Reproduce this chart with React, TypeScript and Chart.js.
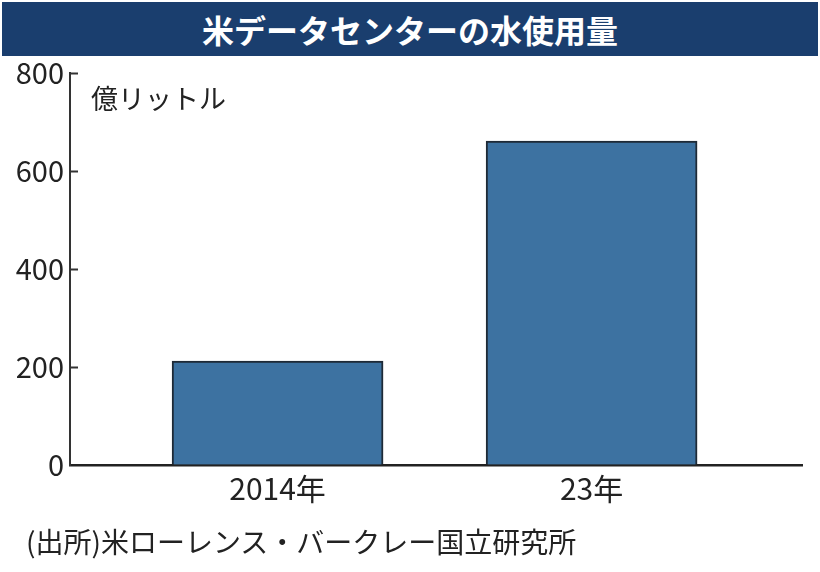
import React, { useEffect, useRef } from "react";
import { Chart, registerables } from "chart.js";

Chart.register(...registerables);

const titleText = "米データセンターの水使用量";
const unitText = "億リットル";
const sourceText = "(出所)米ローレンス・バークレー国立研究所";
const categories = ["2014年", "23年"];
const values = [212, 661];
const yTicks = [0, 200, 400, 600, 800];

const FONT = '"Noto Sans CJK JP", "Noto Sans", sans-serif';

const innerTicks = {
  id: "innerTicks",
  afterDatasetsDraw(chart: any) {
    const { ctx } = chart;
    const y = chart.scales.y;
    const x0 = chart.chartArea.left;
    ctx.save();
    ctx.strokeStyle = "#333";
    ctx.lineWidth = 2;
    yTicks.forEach((v) => {
      if (v === 0) return;
      const py = Math.round(y.getPixelForValue(v)) + 0.5;
      ctx.beginPath();
      ctx.moveTo(x0, py);
      ctx.lineTo(x0 + 8, py);
      ctx.stroke();
    });
    ctx.restore();
  },
};

export default function App() {
  const ref = useRef<HTMLCanvasElement>(null);
  useEffect(() => {
    document.body.style.margin = "0";
    const chart = new Chart(ref.current!, {
      type: "bar",
      data: {
        datasets: [
          {
            data: categories.map((c, i) => ({ x: i + 1, y: values[i] })),
            backgroundColor: "#3d72a1",
            borderColor: "#1e2a36",
            borderWidth: 2,
            barThickness: 211,
          },
        ],
      },
      options: {
        animation: false,
        responsive: false,
        maintainAspectRatio: false,
        layout: { padding: { left: 0, right: 18, top: 73, bottom: 0 } },
        plugins: { legend: { display: false }, tooltip: { enabled: false }, title: { display: false } },
        scales: {
          x: {
            type: "linear",
            min: 0.339,
            max: 2.67,
            offset: false,
            afterBuildTicks: (s: any) => {
              s.ticks = categories.map((_, i) => ({ value: i + 1 }));
            },
            afterFit: (s: any) => {
              s.height = 107;
            },
            ticks: {
              callback: (v: any) => categories[Number(v) - 1] ?? "",
              color: "#222",
              font: { family: FONT, size: 30 },
              padding: 6,
              maxRotation: 0,
              autoSkip: false,
            },
            grid: { display: true, offset: false, drawOnChartArea: false, drawTicks: false },
            border: { display: true, color: "#222", width: 2.5 },
          },
          y: {
            min: 0,
            max: 800,
            afterBuildTicks: (s: any) => {
              s.ticks = yTicks.map((v) => ({ value: v }));
            },
            afterFit: (s: any) => {
              s.width = 70;
            },
            ticks: {
              color: "#222",
              font: { family: FONT, size: 29 },
              padding: 6,
            },
            grid: { display: true, drawOnChartArea: false, drawTicks: false },
            border: { display: true, color: "#333", width: 2 },
          },
        },
      },
      plugins: [innerTicks],
    });
    return () => chart.destroy();
  }, []);

  return (
    <div style={{ position: "relative", width: 820, height: 572, background: "#fff", fontFamily: FONT }}>
      <canvas ref={ref} width={820} height={572} style={{ position: "absolute", left: 0, top: 0 }} />
      <div
        style={{
          position: "absolute",
          left: 2,
          top: 2,
          width: 816,
          height: 54,
          background: "#1a3e6e",
          color: "#fff",
          fontWeight: 700,
          fontSize: 32,
          lineHeight: "54px",
          textAlign: "center",
        }}
      >
        {titleText}
      </div>
      <div style={{ position: "absolute", left: 91, top: 80, fontSize: 27, color: "#222", lineHeight: "36px" }}>
        {unitText}
      </div>
      <div style={{ position: "absolute", left: 26, top: 521, fontSize: 28, color: "#222", lineHeight: "40px" }}>
        {sourceText}
      </div>
    </div>
  );
}
